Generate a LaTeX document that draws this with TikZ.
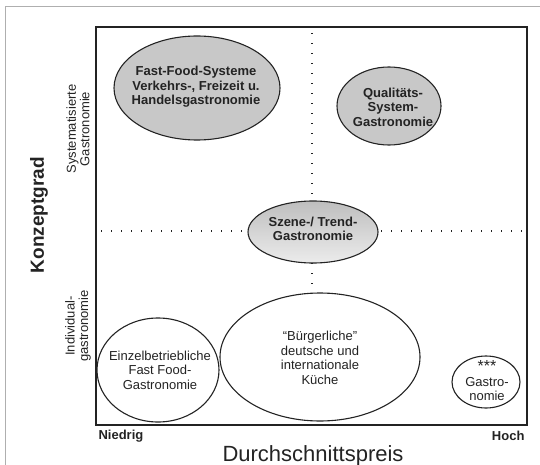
\documentclass[tikz,border=0pt]{standalone}
\usepackage{fontspec}
\setmainfont{Liberation Sans}
\usetikzlibrary{shapes.geometric,positioning}
\definecolor{gastgray}{RGB}{200,200,200}
\definecolor{gastline}{RGB}{35,35,35}
\definecolor{gastframe}{RGB}{175,175,175}
\tikzset{
  oval/.style={draw=gastline, line width=1.1pt, fill=white},
  ovalgray/.style={oval, fill=gastgray},
  otxt/.style={align=center, text=gastline, font=\fontsize{13}{14.5}\selectfont},
  otxtb/.style={otxt, font=\fontsize{13}{14.5}\bfseries\selectfont},
  sidelbl/.style={rotate=90, align=center, text=gastline, font=\fontsize{13}{13.5}\selectfont},
  dotline/.style={gastline, line width=1.3pt, dash pattern=on 1.3pt off 8.7pt},
}

\begin{document}
\begin{tikzpicture}[x=1pt,y=-1pt]
        \useasboundingbox (0,0) rectangle (540,465);
        \draw[gastframe, line width=0.8pt] (5,465) -- (5,6) -- (540,6);

        % Achsen und Quadranten
        \coordinate (nw) at (96,27);
        \coordinate (se) at (527,425);
        \draw[gastline, line width=1.2pt] (nw) rectangle (se);
        \draw[dotline] (312,33) -- (312,296);
        \draw[dotline] (101,231) -- (522,231);

        % Betriebstypen
        \draw[ovalgray] (197,88) ellipse [x radius=83, y radius=52];
        \draw[ovalgray] (389,106) ellipse [x radius=52, y radius=39];
        \draw[oval, top color=gastgray!95!black, bottom color=gastgray!35] (313,232) ellipse [x radius=65, y radius=31];
        \draw[oval] (320,357) ellipse [x radius=100, y radius=64];
        \draw[oval] (158,370) ellipse [x radius=61, y radius=52];
        \draw[oval] (486,382) ellipse [x radius=34, y radius=26];

        \node[otxtb] (fastfood) at (196,87) {Fast-Food-Systeme\\Verkehrs-, Freizeit u.\\Handelsgastronomie};
        \node[otxtb] (quali) at (393,107) {Qualitäts-\\System-\\Gastronomie};
        \node[otxtb] (szene) at (313,229) {Szene-/ Trend-\\Gastronomie};
        \node[otxt] (buerger) at (320,358) {“Bürgerliche”\\deutsche und\\internationale\\Küche};
        \node[otxt] (einzel) at (160,370) {Einzelbetriebliche\\Fast Food-\\Gastronomie};
        \node[otxt] (sterne) at (487,381) {{\fontsize{16}{14.5}\selectfont ***}\\Gastro-\\nomie};

        % Beschriftung
        \node[sidelbl] (system) at (78,129) {Systematisierte\\Gastronomie};
        \node[sidelbl] (indiv) at (78,326) {Individual-\\gastronomie};
        \node[rotate=90, text=gastline, font=\fontsize{19}{20}\bfseries\selectfont] (konzept) at (39,215) {Konzeptgrad};
        \node[anchor=west, text=gastline, font=\fontsize{13}{14}\bfseries\selectfont] (niedrig) at (95,436) {Niedrig};
        \node[anchor=east, text=gastline, font=\fontsize{13}{14}\bfseries\selectfont] (hoch) at (528,436) {Hoch};
        \node[text=gastline, font=\fontsize{22}{24}\selectfont] (preis) at (313,456) {Durchschnittspreis};
    \end{tikzpicture}
\end{document}
